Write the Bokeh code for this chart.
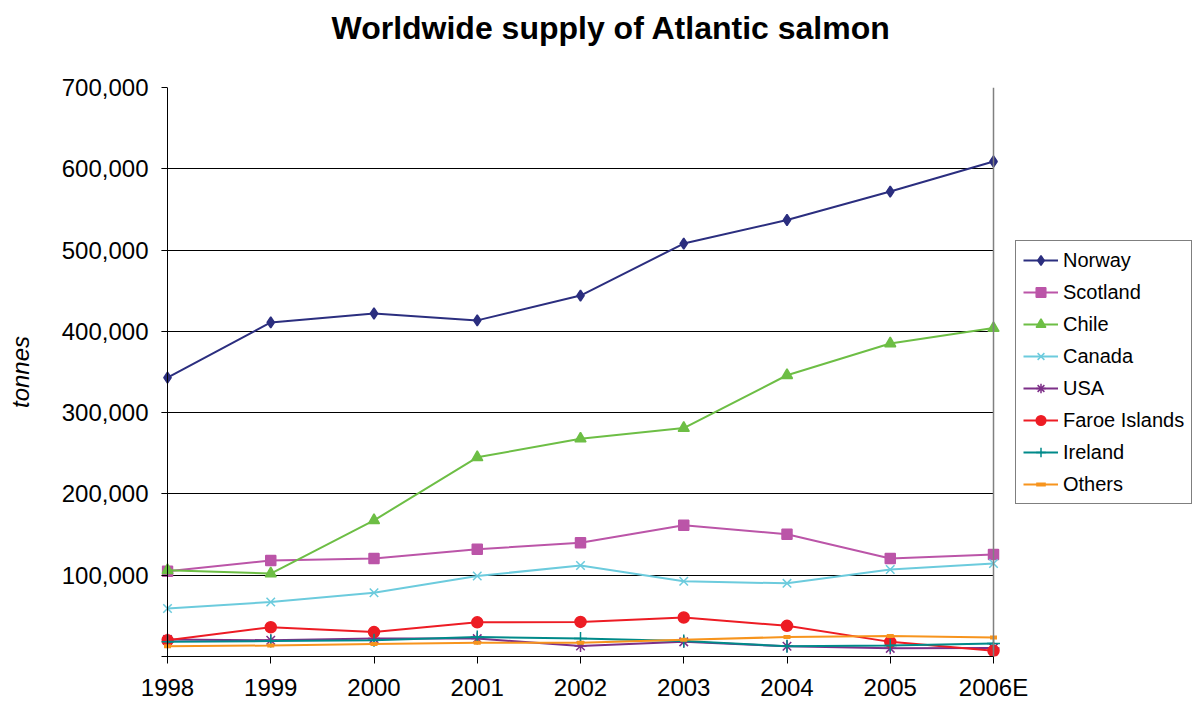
import numpy as np
from bokeh.plotting import figure
from bokeh.models import Span, FixedTicker, NumeralTickFormatter, Range1d, Title
from bokeh.embed import file_html
from bokeh.resources import INLINE

years = ["1998", "1999", "2000", "2001", "2002", "2003", "2004", "2005", "2006E"]
norway = [343000, 411000, 422000, 413500, 444000, 508000, 537000, 572000, 609000]
scotland = [105000, 118000, 120500, 132000, 140000, 161500, 150500, 120500, 125500]
chile = [106000, 102000, 167500, 245000, 268000, 281000, 346000, 385000, 404000]
canada = [59000, 67000, 78500, 99000, 112000, 92500, 90000, 107000, 114500]
usa = [21000, 20000, 22000, 22000, 13000, 18000, 12700, 10000, 10600]
faroe = [20000, 36000, 30000, 42000, 42500, 48000, 37700, 18000, 7000]
ireland = [18000, 19000, 20000, 24000, 22000, 19000, 12700, 13500, 16000]
others = [12700, 13500, 15500, 17000, 17000, 20500, 24000, 25300, 23300]
y_ticks = [100000, 200000, 300000, 400000, 500000, 600000, 700000]

series = [
    ("Norway", norway, "#2b2e7f", "diamond", 11),
    ("Scotland", scotland, "#bb55a8", "square", 10),
    ("Chile", chile, "#6dbe45", "triangle", 11),
    ("Canada", canada, "#6ccbdd", "x", 12),
    ("USA", usa, "#7d2f88", "asterisk", 12),
    ("Faroe Islands", faroe, "#ed1c24", "circle", 11),
    ("Ireland", ireland, "#008a8a", "cross", 13),
    ("Others", others, "#f7941d", "dash", 7),
]

x = np.arange(len(years))
last = len(years) - 1
FONT = "Liberation Sans"

# frame spans x=161..1201 px; data 0..last maps to 167..993 px
px_per_unit = 826.0 / last
x_start = -6.0 / px_per_unit
x_end = x_start + 1040.0 / px_per_unit

p = figure(width=1201, height=703, output_backend="svg", toolbar_location=None,
           x_range=Range1d(x_start, x_end), y_range=Range1d(0, 700000),
           min_border_left=161, min_border_right=0, min_border_top=87, min_border_bottom=47)
p.outline_line_color = None
p.background_fill_color = "white"
p.border_fill_color = "white"

for name, vals, color, marker, size in series:
    p.line(x, vals, line_color=color, line_width=2, legend_label=name)
    if marker == "dash":
        p.scatter(x, vals, marker=marker, size=size, line_color=color, line_width=4,
                  fill_color=color, legend_label=name)
    else:
        p.scatter(x, vals, marker=marker, size=size, line_color=color, fill_color=color,
                  line_width=1.5, legend_label=name)

# axes
p.xaxis.ticker = FixedTicker(ticks=list(range(len(years))))
p.xaxis.major_label_overrides = {int(i): lab for i, lab in enumerate(years)}
p.xaxis.bounds = (x_start, last)
p.xaxis.minor_tick_line_color = None
p.xaxis.major_tick_in = 0
p.xaxis.major_tick_out = 7
p.xaxis.axis_line_color = "black"
p.xaxis.major_tick_line_color = "black"
p.xaxis.major_label_text_font = FONT
p.xaxis.major_label_text_font_size = "24px"
p.xaxis.major_label_text_color = "black"
p.xaxis.major_label_standoff = 10

p.yaxis.ticker = FixedTicker(ticks=y_ticks)
p.yaxis.formatter = NumeralTickFormatter(format="0,0")
p.yaxis.axis_line_color = None
p.yaxis.minor_tick_line_color = None
p.yaxis.major_tick_in = 6
p.yaxis.major_tick_out = 0
p.yaxis.major_tick_line_color = "black"
p.yaxis.major_label_text_font = FONT
p.yaxis.major_label_text_font_size = "24px"
p.yaxis.major_label_text_color = "black"
p.yaxis.major_label_standoff = 13
p.yaxis.axis_label = "tonnes"
p.yaxis.axis_label_text_font = FONT
p.yaxis.axis_label_text_font_size = "24px"
p.yaxis.axis_label_text_font_style = "italic"
p.yaxis.axis_label_text_color = "black"
p.yaxis.axis_label_standoff = 25

p.xgrid.visible = False
p.ygrid.grid_line_color = "black"
p.ygrid.grid_line_width = 1
p.ygrid.cross_bounds = (x_start, last)

p.add_layout(Span(location=0, dimension="height", line_color="black", line_width=1))
p.add_layout(Span(location=last, dimension="height", line_color="#808080", line_width=1.5))

p.title = Title(text="Worldwide supply of Atlantic salmon\n ", align="left", offset=170,
                vertical_align="top",
                text_font=FONT, text_font_size="32px", text_font_style="bold",
                text_color="black", standoff=8)

lg = p.legend[0]
lg.location = (854, 152)
lg.border_line_color = "black"
lg.border_line_width = 1
lg.background_fill_color = "white"
lg.background_fill_alpha = 1
lg.label_text_font = FONT
lg.label_text_font_size = "20px"
lg.label_text_color = "black"
lg.glyph_width = 35
lg.glyph_height = 24
lg.label_height = 24
lg.label_standoff = 5
lg.spacing = 8
lg.padding = 7
lg.margin = 0

open("out.html", "w").write(file_html(p, INLINE))
